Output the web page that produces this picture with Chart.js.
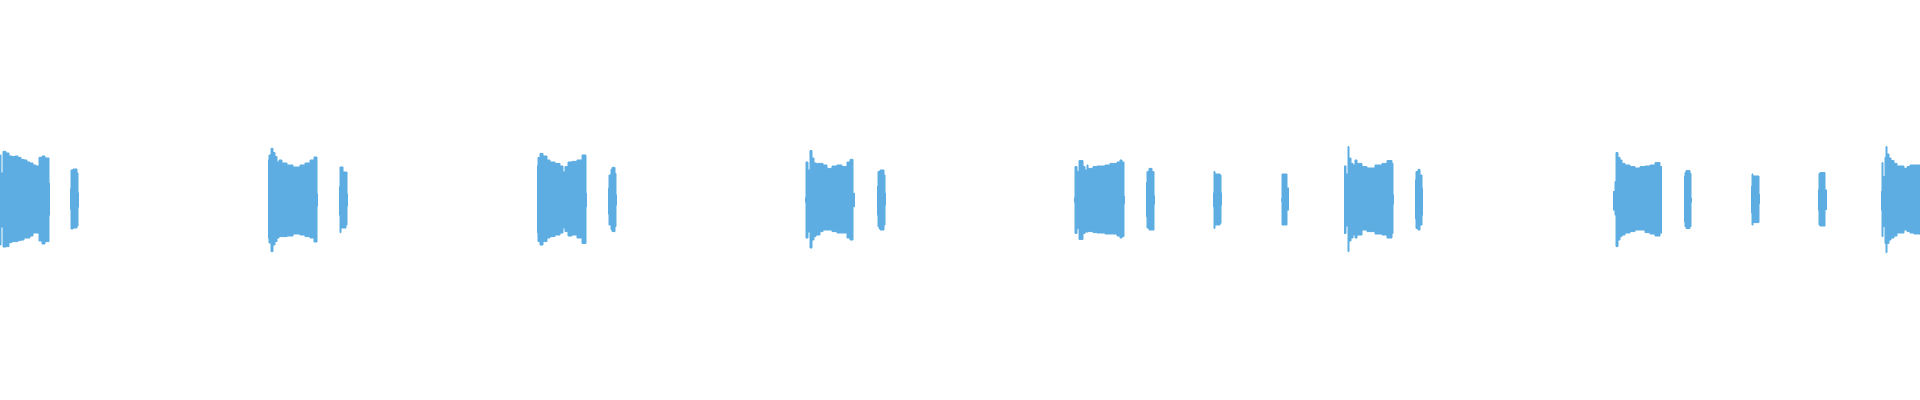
<!DOCTYPE html>
<html lang="en">
<head>
<meta charset="UTF-8" />
<title>Waveform</title>
<script src="https://cdn.jsdelivr.net/npm/chart.js@4.4.0/dist/chart.umd.min.js"></script>
<style>
  html, body { margin: 0; padding: 0; background: #fff; }
  #wrap { width: 1920px; height: 400px; position: relative; }
</style>
</head>
<body>
<div id="wrap"><canvas id="wave"></canvas></div>
<script>
// envelope of the waveform: time (frame), upper peak, lower peak (percent of full scale)
// a null peak breaks the trace (silence)
const time = [
  0, 1, 3, 6, 9, 12, 15, 18, 21, 24, 27, 30, 33, 36, 39, 42, 45, 49, 50, 50,
  70, 71, 73, 77, 78, 79, 79,
  268, 269, 271, 273, 275, 277, 279, 282, 287, 293, 300, 305, 310, 314, 317, 318, 318,
  339, 340, 341, 343, 346, 347, 348, 348,
  537, 538, 540, 543, 547, 550, 555, 560, 563, 565, 568, 572, 577, 582, 586, 587, 587,
  608, 609, 611, 612, 615, 616, 617, 617,
  805, 806, 808, 810, 812, 814, 816, 820, 823, 827, 832, 837, 842, 847, 850, 853, 855, 855,
  877, 878, 879, 880, 884, 885, 886, 886,
  1074, 1075, 1077, 1079, 1083, 1085, 1087, 1088, 1093, 1097, 1105, 1110, 1117, 1120, 1122, 1124, 1125, 1125,
  1146, 1147, 1149, 1152, 1154, 1155, 1155,
  1213, 1214, 1215, 1220, 1221, 1222, 1222,
  1281, 1282, 1287, 1289, 1289,
  1344, 1346, 1348, 1349, 1351, 1353, 1355, 1357, 1362, 1367, 1375, 1382, 1387, 1392, 1393, 1394, 1394,
  1415, 1416, 1418, 1420, 1422, 1423, 1423,
  1613, 1615, 1616, 1618, 1620, 1622, 1625, 1630, 1635, 1640, 1645, 1650, 1655, 1660, 1662, 1662,
  1684, 1685, 1686, 1690, 1691, 1692, 1692,
  1751, 1752, 1753, 1759, 1760, 1760,
  1818, 1819, 1820, 1825, 1827, 1827,
  1881, 1882, 1883, 1885, 1886, 1887, 1889, 1891, 1894, 1897, 1904, 1907, 1910, 1914, 1920,
];
const upper = [
  22.5, 13.5, 24.3, 23.5, 22, 21.7, 22, 21.3, 20.3, 20, 19, 18.5, 17.5, 17, 21.3, 22, 21, 8.3, 8.3, null,
  5.5, 15, 15.5, 13.5, 3.5, 3.5, null,
  20, 22.5, 25.8, 23.7, 21.7, 19, 20, 18.5, 17.5, 16.5, 17.5, 18.5, 20, 21.5, 3, 3, null,
  6.5, 16.5, 16.5, 14, 14, 3, 3, null,
  17, 21.3, 23.3, 22, 20, 19, 18.3, 17, 14, 16.7, 19, 19.3, 20, 22.5, 3.3, 3.3, null,
  5.8, 12.5, 15.3, 16.3, 13.3, 2.5, 2.5, null,
  1, 19, 15, 24.7, 21, 18.5, 18.3, 18.3, 17.5, 15.8, 17, 17.5, 16.7, 19, 20.3, 3.3, 3.3, null,
  6.7, 14.2, 14.2, 15, 12.5, 3.3, 3.3, null,
  1, 16.7, 14.2, 19.7, 16.7, 15, 17.5, 15.8, 16.7, 17, 17.5, 18.3, 19, 20, 19, 1.7, 1.7, null,
  8.7, 14.2, 15.8, 14.2, 2, 2, null,
  3.5, 14.2, 13, 12.5, 3.5, 3.5, null,
  0.5, 13, 6, 6, null,
  17, 13, 26.7, 21, 18.3, 17.5, 20, 18.3, 16.7, 16, 17.5, 18.3, 19.7, 18.3, 2.5, 2.5, null,
  10, 14.2, 15.3, 12.5, 5.8, 5.8, null,
  4.2, 9.2, 23.7, 21.3, 20, 18.3, 17.5, 16.7, 16, 16.7, 17, 17.5, 18.7, 16.7, 16.7, null,
  11.7, 13.7, 14.7, 13.3, 0.8, 0.8, null,
  6.7, 13, 12, 2.7, 2.7, null,
  5, 13.3, 13.7, 5, 5, null,
  4.2, 18.7, 11.7, 21.3, 26.7, 23, 21, 19.7, 18.3, 17, 15.8, 16.7, 17.5, 17.5, 17.5,
];
const lower = [
  -22.5, -13.5, -23.5, -23.3, -21.3, -20.8, -20.8, -20.3, -20, -19, -19, -18, -16.5, -16.5, -20.5, -22, -20.8, -7.5, -7.5, null,
  -4.5, -14.5, -14, -13, -3.5, -3.5, null,
  -19, -21.5, -25.8, -22.5, -20.8, -19, -18.3, -18.3, -18, -17, -17.5, -18.3, -19, -21, -3, -3, null,
  -7.5, -16.3, -14, -14, -12.5, -3, -3, null,
  -16.3, -20.8, -22.5, -20.8, -19, -18.3, -17.5, -16.5, -14, -15.8, -18, -17.5, -19, -21.7, -3.3, -3.3, null,
  -7, -12.5, -14.7, -15.8, -13.3, -2.5, -2.5, null,
  -1, -19, -16, -24, -20, -18.3, -17.5, -15.8, -15, -15, -15.8, -16.5, -16.5, -19, -20, -3.3, -3.3, null,
  -7.5, -13.3, -14.2, -15, -12.5, -2.5, -2.5, null,
  -1, -16.7, -14.2, -19.7, -16.7, -16, -16, -15.8, -16.3, -16.5, -17, -17, -18, -19, -18.3, -1.7, -1.7, null,
  -8.3, -14, -15, -15, -2, -2, null,
  -3.3, -14.2, -12.5, -11.7, -2.5, -2.5, null,
  -0.5, -12.5, -5, -5, null,
  -16.7, -13, -25.8, -20.5, -19, -17.5, -19, -17.5, -15, -15.8, -17, -17.5, -19, -16.7, -2, -2, null,
  -9.2, -14.2, -15, -12.5, -7.5, -7.5, null,
  -5, -7.5, -23.3, -20, -18.3, -17.5, -16.5, -15.8, -15, -15, -16.3, -17, -18, -16.5, -16.5, null,
  -10.8, -13.3, -14.2, -13.3, -1, -1, null,
  -6.3, -12.5, -11.3, -1.7, -1.7, null,
  -5, -12.5, -13, -4.7, -4.7, null,
  -5, -18.3, -13.3, -21.7, -26.3, -21.7, -20, -19, -18, -16.5, -15, -15.8, -16.5, -17, -17,
];

const WAVE = "#5DADE2";
const pts = (vals) => time.map((t, i) => ({ x: t, y: vals[i] }));
const trace = (vals) => ({
  data: pts(vals),
  stepped: true,
  spanGaps: false,
  fill: "origin",
  borderColor: WAVE,
  backgroundColor: WAVE,
  borderWidth: 1,
  pointRadius: 0,
});

new Chart(document.getElementById("wave"), {
  type: "line",
  data: { datasets: [trace(upper), trace(lower)] },
  options: {
    responsive: true,
    maintainAspectRatio: false,
    animation: false,
    layout: { padding: 0 },
    plugins: { legend: { display: false }, tooltip: { enabled: false } },
    scales: {
      x: { type: "linear", min: 0, max: 1920, display: false },
      y: { min: -100, max: 100, display: false },
    },
  },
});
</script>
</body>
</html>
